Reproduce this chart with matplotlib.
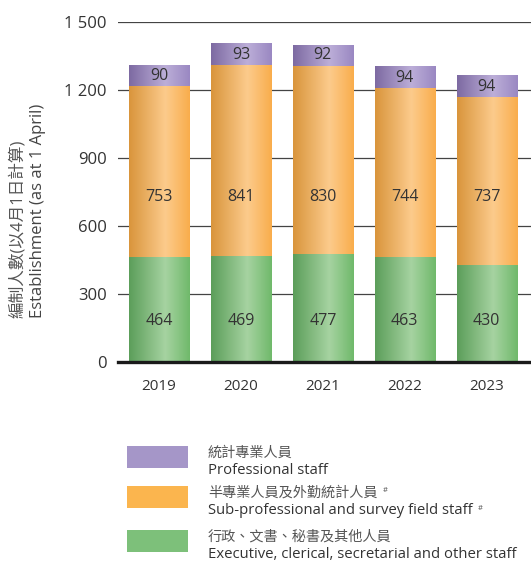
import numpy as np
import matplotlib
matplotlib.use("Agg")
import matplotlib.pyplot as plt
from matplotlib.colors import LinearSegmentedColormap

years = ["2019", "2020", "2021", "2022", "2023"]
other_staff = [464, 469, 477, 463, 430]
sub_prof = [753, 841, 830, 744, 737]
professional = [90, 93, 92, 94, 94]

yticks = [0, 300, 600, 900, 1200, 1500]
ytick_labels = ["0", "300", "600", "900", "1 200", "1 500"]

legend_zh = ["統計專業人員", "半專業人員及外勤統計人員", "行政、文書、秘書及其他人員"]
legend_en = ["Professional staff", "Sub-professional and survey field staff", "Executive, clerical, secretarial and other staff"]
legend_hash = [False, True, False]

FONTS = ["Open Sans", "Noto Sans CJK TC", "DejaVu Sans"]
plt.rcParams["font.family"] = FONTS

# gradient stops: dark left, light ~60%, medium right
grad = {
    "prof": ["#7d6aa2", "#bcaed8", "#9a88c2"],
    "sub": ["#d9953c", "#fccb8c", "#f9ad4c"],
    "oth": ["#5c9e5a", "#a6d3a1", "#70b96b"],
}
flat = {"prof": "#a596c8", "sub": "#fbb54e", "oth": "#7dc07a"}
# label heights (data units) for the lower two series; None = segment centre
label_y = {"oth": 181, "sub": 728, "prof": None}

W, H = 531, 563
fig = plt.figure(figsize=(W / 100, H / 100), dpi=100)
ax = fig.add_axes([118 / W, (H - 362) / H, 1 - 118 / W, 340 / H])

x = np.arange(len(years))
bw = 0.735
txtc = "#333333"

def cmap_for(key):
    c = grad[key]
    return LinearSegmentedColormap.from_list(key, [(0, c[0]), (0.6, c[1]), (1.0, c[2])])

gimg = np.linspace(0, 1, 128).reshape(1, -1)
series = [("oth", other_staff), ("sub", sub_prof), ("prof", professional)]
bottoms = np.zeros(len(years))
for key, vals in series:
    vals = np.array(vals, dtype=float)
    bars = ax.bar(x, vals, bw, bottom=bottoms, color="none", edgecolor="none", zorder=2)
    cm = cmap_for(key)
    for b in bars:
        x0, y0 = b.get_x(), b.get_y()
        ax.imshow(gimg, cmap=cm, aspect="auto", extent=(x0, x0 + b.get_width(), y0, y0 + b.get_height()),
                  zorder=2, interpolation="bilinear")
    for xi, bt, v in zip(x, bottoms, vals):
        ly = label_y[key] if label_y[key] is not None else bt + v / 2
        ax.text(xi, ly, f"{int(v)}", ha="center", va="center", fontsize=11.5, color=txtc, zorder=3)
    bottoms = bottoms + vals

ax.set_xlim(-0.5, 4.54)
ax.set_ylim(0, 1500)
ax.set_yticks(yticks)
ax.set_yticklabels(ytick_labels)
ax.set_xticks(x)
ax.set_xticklabels(years)
ax.tick_params(axis="y", length=0, pad=8, labelsize=12, labelcolor=txtc)
ax.tick_params(axis="x", length=0, pad=12, labelsize=11, labelcolor=txtc)
ax.grid(axis="y", color="#444444", linewidth=0.9, zorder=0)
ax.set_axisbelow(True)
for s in ["top", "right", "left"]:
    ax.spines[s].set_visible(False)
ax.spines["bottom"].set_linewidth(2.4)
ax.spines["bottom"].set_color("#1a1a1a")
ax.spines["bottom"].set_zorder(4)

# y label
fig.text(18 / W, (H - 318) / H, "編制人數(以4月1日計算)", rotation=90, ha="center", va="bottom",
         fontsize=12, color="#555555")
fig.text(38 / W, (H - 318) / H, "Establishment (as at 1 April)", rotation=90, ha="center", va="bottom",
         fontsize=12, color="#444444")

# legend
leg_keys = ["prof", "sub", "oth"]
rect_tops = [446, 486, 530]
fig.canvas.draw()
renderer = fig.canvas.get_renderer()
for key, top, zh, en, hs in zip(leg_keys, rect_tops, legend_zh, legend_en, legend_hash):
    fig.patches.append(plt.Rectangle((127 / W, (H - top - 22) / H), 61 / W, 22 / H,
                                     transform=fig.transFigure, facecolor=flat[key], edgecolor="none"))
    t1 = fig.text(208 / W, (H - (top + 7)) / H, zh, ha="left", va="center", fontsize=10.2, color="#555555")
    t2 = fig.text(208 / W, (H - (top + 25)) / H, en, ha="left", va="center", fontsize=10.7, color="#333333")
    if hs:
        for t, yy in ((t1, top + 7), (t2, top + 25)):
            bb = t.get_window_extent(renderer)
            fig.text(bb.x1 / W + 5 / W, (H - (yy - 3)) / H, "#", ha="left", va="center", fontsize=5.5,
                     color="#555555")

fig.savefig("out.png", dpi=100)
